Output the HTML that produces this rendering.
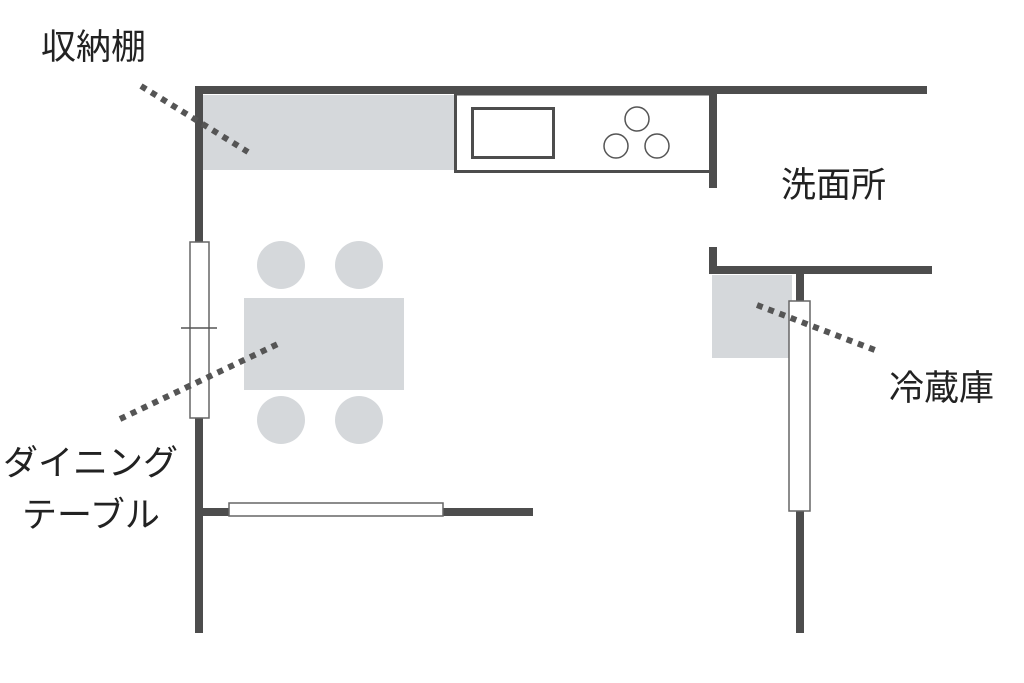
<!DOCTYPE html>
<html><head><meta charset="utf-8"><style>
html,body{margin:0;padding:0;background:#fff;width:1024px;height:683px;overflow:hidden}
svg text{font-family:"Liberation Sans","Noto Sans CJK JP",sans-serif;fill:#222;font-size:35px}
</style></head><body>
<svg width="1024" height="683" viewBox="0 0 1024 683" xmlns="http://www.w3.org/2000/svg">
<rect x="203" y="95" width="251" height="75" fill="#d5d8db"/>
<rect x="712" y="275" width="80" height="83" fill="#d5d8db"/>
<rect x="244" y="298" width="160" height="92" fill="#d5d8db"/>
<circle cx="281" cy="265" r="24" fill="#d5d8db"/>
<circle cx="359" cy="265" r="24" fill="#d5d8db"/>
<circle cx="281" cy="420" r="24" fill="#d5d8db"/>
<circle cx="359" cy="420" r="24" fill="#d5d8db"/>
<g fill="#4d4d4d">
<rect x="195" y="86" width="732" height="8"/>
<rect x="195" y="86" width="8" height="547"/>
<rect x="709" y="90" width="8" height="98"/>
<rect x="709" y="247" width="8" height="26"/>
<rect x="709" y="266" width="223" height="8"/>
<rect x="796" y="270" width="8" height="363"/>
<rect x="199" y="508" width="334" height="8"/>
</g>
<rect x="455.5" y="94" width="255" height="77.5" fill="#fff" stroke="#4d4d4d" stroke-width="3"/>
<rect x="472.5" y="108.5" width="81" height="49" fill="none" stroke="#4d4d4d" stroke-width="3"/>
<g fill="none" stroke="#555" stroke-width="1.5">
<circle cx="637" cy="119" r="12"/>
<circle cx="616" cy="146" r="12"/>
<circle cx="657" cy="146" r="12"/>
</g>
<g fill="#fff" stroke="#666" stroke-width="1.5">
<rect x="190" y="242" width="19" height="176"/>
<rect x="789" y="301" width="21" height="210"/>
<rect x="229" y="503" width="214" height="13"/>
</g>
<line x1="181" y1="328" x2="217" y2="328" stroke="#555" stroke-width="1.5"/>
<g stroke="#555" stroke-width="6" stroke-dasharray="6 6" fill="none">
<line x1="141" y1="86" x2="248" y2="152"/>
<line x1="120" y1="419" x2="282" y2="342"/>
<line x1="757" y1="305" x2="880" y2="352"/>
</g>
<text x="41" y="59">収納棚</text>
<text x="781" y="197">洗面所</text>
<text x="889" y="400">冷蔵庫</text>
<text x="3" y="475">ダイニング</text>
<text x="22" y="527">テーブル</text>
</svg>
</body></html>
